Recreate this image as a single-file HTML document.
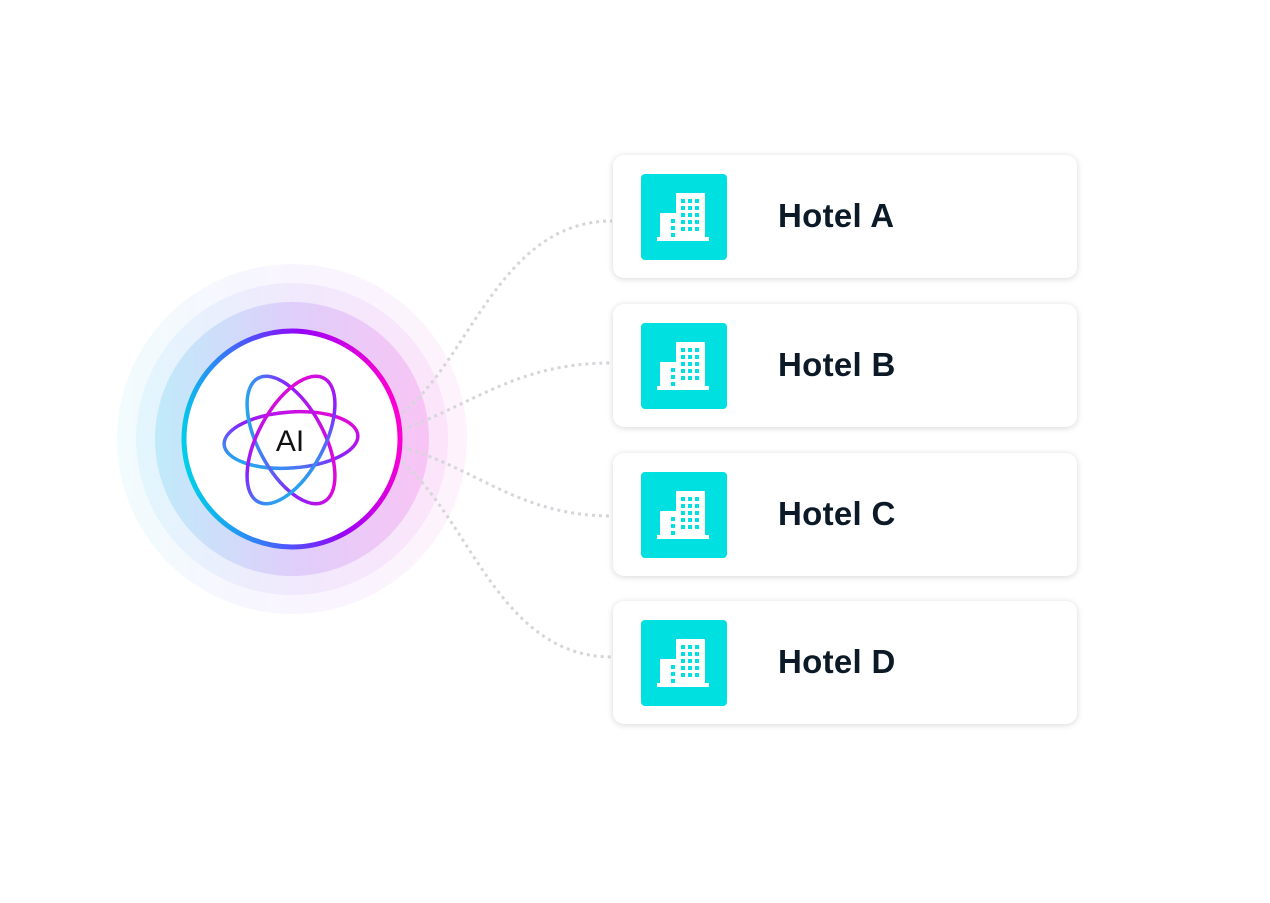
<!DOCTYPE html>
<html><head><meta charset="utf-8"><style>
body{margin:0;width:1270px;height:903px;background:#fff;position:relative;overflow:hidden;font-family:"Liberation Sans",sans-serif}
.card{position:absolute;left:613px;width:464px;height:123px;background:#fff;border-radius:11px;box-shadow:0 1px 7px rgba(0,0,0,.16)}
.ic{position:absolute;left:28px;top:19px;width:86px;height:86px;background:#00e0e0;border-radius:4px}
.t{position:absolute;left:165px;top:41px;font-size:33px;font-weight:bold;color:#0b1a26;line-height:40px;letter-spacing:0.3px}
svg{position:absolute;left:0;top:0}
</style></head><body>
<svg width="1270" height="903">
<defs>
<linearGradient id="h" x1="0" x2="1" y1="0" y2="0"><stop offset="0" stop-color="#40c8f0"/><stop offset=".5" stop-color="#a070f0"/><stop offset="1" stop-color="#f050e0"/></linearGradient>
<linearGradient id="ring" x1="0" y1="0.6" x2="1" y2="0.4"><stop offset="0" stop-color="#00d0e8"/><stop offset=".4" stop-color="#5050ff"/><stop offset=".65" stop-color="#9a00f8"/><stop offset="1" stop-color="#ff00d0"/></linearGradient>
<linearGradient id="at" x1="0" y1="1" x2="1" y2="0"><stop offset="0" stop-color="#00d8e8"/><stop offset=".5" stop-color="#8a20ff"/><stop offset="1" stop-color="#ff00c8"/></linearGradient>
</defs>
<circle cx="292" cy="439" r="175" fill="url(#h)" opacity=".07"/>
<circle cx="292" cy="439" r="156" fill="url(#h)" opacity=".09"/>
<circle cx="292" cy="439" r="137" fill="url(#h)" opacity=".22"/>
<g fill="none" stroke="#d6d6da" stroke-width="3" stroke-dasharray="3 4">
<path d="M402,413 C470,360 500,221 612,221"/>
<path d="M402,430 C480,400 520,363 612,363"/>
<path d="M402,447 C480,470 520,516 612,516"/>
<path d="M402,462 C470,520 500,657 612,657"/>
</g>
<circle cx="292" cy="439" r="108" fill="#fff" stroke="url(#ring)" stroke-width="5"/>
<g fill="none" stroke="url(#at)" stroke-width="3.5">
<ellipse cx="291" cy="440" rx="67" ry="28" transform="rotate(-4 291 440)"/>
<ellipse cx="291" cy="440" rx="70" ry="33" transform="rotate(62 291 440)"/>
<ellipse cx="291" cy="440" rx="70" ry="33" transform="rotate(-62 291 440)"/>
</g>
<text x="290" y="451" text-anchor="middle" font-family="Liberation Sans,sans-serif" font-size="30" fill="#111">AI</text>
</svg>
<div class="card" style="top:155px"><div class="ic"><svg width="86" height="86"><g fill="#fff"><rect x="35" y="19" width="29" height="48"/><rect x="19" y="39" width="17" height="28"/><rect x="16" y="63" width="52" height="4"/></g><g fill="#00e0e0"><rect x="40" y="25" width="4" height="4"/><rect x="47" y="25" width="4" height="4"/><rect x="54" y="25" width="4" height="4"/><rect x="40" y="32" width="4" height="4"/><rect x="47" y="32" width="4" height="4"/><rect x="54" y="32" width="4" height="4"/><rect x="40" y="39" width="4" height="4"/><rect x="47" y="39" width="4" height="4"/><rect x="54" y="39" width="4" height="4"/><rect x="40" y="46" width="4" height="4"/><rect x="47" y="46" width="4" height="4"/><rect x="54" y="46" width="4" height="4"/><rect x="40" y="53" width="4" height="4"/><rect x="47" y="53" width="4" height="4"/><rect x="54" y="53" width="4" height="4"/><rect x="30" y="45" width="4" height="4"/><rect x="30" y="52" width="4" height="4"/><rect x="30" y="59" width="4" height="4"/></g></svg></div><div class="t">Hotel A</div></div>
<div class="card" style="top:304px"><div class="ic"><svg width="86" height="86"><g fill="#fff"><rect x="35" y="19" width="29" height="48"/><rect x="19" y="39" width="17" height="28"/><rect x="16" y="63" width="52" height="4"/></g><g fill="#00e0e0"><rect x="40" y="25" width="4" height="4"/><rect x="47" y="25" width="4" height="4"/><rect x="54" y="25" width="4" height="4"/><rect x="40" y="32" width="4" height="4"/><rect x="47" y="32" width="4" height="4"/><rect x="54" y="32" width="4" height="4"/><rect x="40" y="39" width="4" height="4"/><rect x="47" y="39" width="4" height="4"/><rect x="54" y="39" width="4" height="4"/><rect x="40" y="46" width="4" height="4"/><rect x="47" y="46" width="4" height="4"/><rect x="54" y="46" width="4" height="4"/><rect x="40" y="53" width="4" height="4"/><rect x="47" y="53" width="4" height="4"/><rect x="54" y="53" width="4" height="4"/><rect x="30" y="45" width="4" height="4"/><rect x="30" y="52" width="4" height="4"/><rect x="30" y="59" width="4" height="4"/></g></svg></div><div class="t">Hotel B</div></div>
<div class="card" style="top:453px"><div class="ic"><svg width="86" height="86"><g fill="#fff"><rect x="35" y="19" width="29" height="48"/><rect x="19" y="39" width="17" height="28"/><rect x="16" y="63" width="52" height="4"/></g><g fill="#00e0e0"><rect x="40" y="25" width="4" height="4"/><rect x="47" y="25" width="4" height="4"/><rect x="54" y="25" width="4" height="4"/><rect x="40" y="32" width="4" height="4"/><rect x="47" y="32" width="4" height="4"/><rect x="54" y="32" width="4" height="4"/><rect x="40" y="39" width="4" height="4"/><rect x="47" y="39" width="4" height="4"/><rect x="54" y="39" width="4" height="4"/><rect x="40" y="46" width="4" height="4"/><rect x="47" y="46" width="4" height="4"/><rect x="54" y="46" width="4" height="4"/><rect x="40" y="53" width="4" height="4"/><rect x="47" y="53" width="4" height="4"/><rect x="54" y="53" width="4" height="4"/><rect x="30" y="45" width="4" height="4"/><rect x="30" y="52" width="4" height="4"/><rect x="30" y="59" width="4" height="4"/></g></svg></div><div class="t">Hotel C</div></div>
<div class="card" style="top:601px"><div class="ic"><svg width="86" height="86"><g fill="#fff"><rect x="35" y="19" width="29" height="48"/><rect x="19" y="39" width="17" height="28"/><rect x="16" y="63" width="52" height="4"/></g><g fill="#00e0e0"><rect x="40" y="25" width="4" height="4"/><rect x="47" y="25" width="4" height="4"/><rect x="54" y="25" width="4" height="4"/><rect x="40" y="32" width="4" height="4"/><rect x="47" y="32" width="4" height="4"/><rect x="54" y="32" width="4" height="4"/><rect x="40" y="39" width="4" height="4"/><rect x="47" y="39" width="4" height="4"/><rect x="54" y="39" width="4" height="4"/><rect x="40" y="46" width="4" height="4"/><rect x="47" y="46" width="4" height="4"/><rect x="54" y="46" width="4" height="4"/><rect x="40" y="53" width="4" height="4"/><rect x="47" y="53" width="4" height="4"/><rect x="54" y="53" width="4" height="4"/><rect x="30" y="45" width="4" height="4"/><rect x="30" y="52" width="4" height="4"/><rect x="30" y="59" width="4" height="4"/></g></svg></div><div class="t">Hotel D</div></div>
</body></html>
